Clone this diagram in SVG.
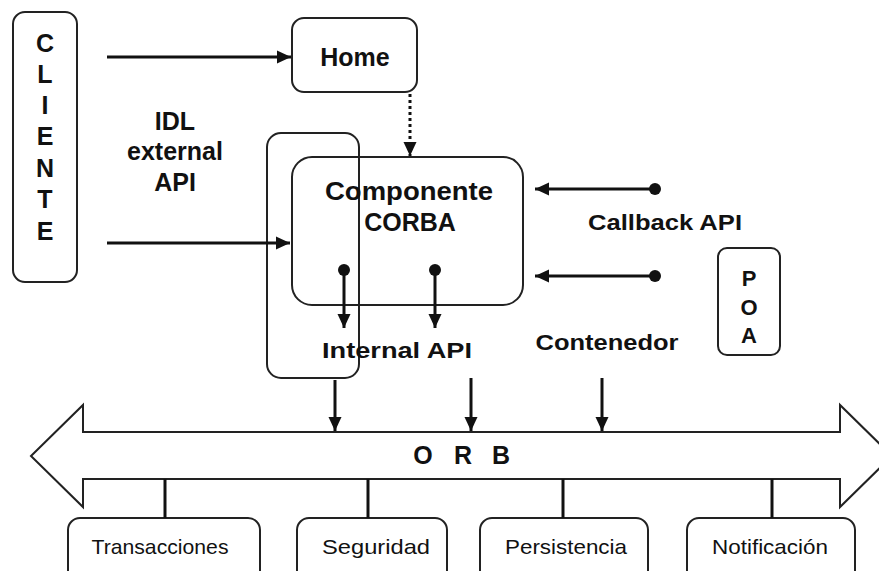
<svg xmlns="http://www.w3.org/2000/svg" width="879" height="571" viewBox="0 0 879 571">
  <defs>
    <marker id="head" markerUnits="userSpaceOnUse" markerWidth="15" markerHeight="15" refX="14" refY="7.5" orient="auto">
      <path d="M0,1 L14,7.5 L0,14 z" fill="#111"/>
    </marker>
    <marker id="dot" markerUnits="userSpaceOnUse" markerWidth="14" markerHeight="14" refX="7" refY="7" orient="auto">
      <circle cx="7" cy="7" r="6" fill="#111"/>
    </marker>
    <style>
      .box { fill: none; stroke: #222; stroke-width: 2; }
      .wire { fill: none; stroke: #111; stroke-width: 3; }
      .arrow { fill: none; stroke: #111; stroke-width: 3; marker-end: url(#head); }
      .api { fill: none; stroke: #111; stroke-width: 3; marker-start: url(#dot); marker-end: url(#head); }
      .dotted { fill: none; stroke: #111; stroke-width: 3; stroke-dasharray: 3 3; marker-end: url(#head); }
      .big { font-family: "Liberation Sans", Arial, sans-serif; font-weight: bold; font-size: 25px; fill: #111; text-anchor: middle; }
      .mid { font-family: "Liberation Sans", Arial, sans-serif; font-weight: bold; font-size: 22px; fill: #111; text-anchor: middle; }
      .svc { font-family: "Liberation Sans", Arial, sans-serif; font-size: 21px; fill: #111; text-anchor: middle; }
    </style>
  </defs>
  <rect width="879" height="571" fill="#fff"/>

  <!-- client column -->
  <g id="cliente">
    <rect class="box" x="13" y="12" width="64" height="270" rx="12"/>
    <text class="big" x="45" y="52">C</text>
    <text class="big" x="45" y="83">L</text>
    <text class="big" x="45" y="114">I</text>
    <text class="big" x="45" y="145">E</text>
    <text class="big" x="45" y="177">N</text>
    <text class="big" x="45" y="208">T</text>
    <text class="big" x="45" y="240">E</text>
  </g>

  <g id="idl-label">
    <text class="big" x="175" y="130">IDL</text>
    <text class="big" x="175" y="160">external</text>
    <text class="big" x="175" y="191">API</text>
  </g>

  <g id="home">
    <rect class="box" x="292" y="18" width="125" height="74" rx="12"/>
    <text class="big" x="355" y="66">Home</text>
  </g>

  <!-- external interface strip crossing the component -->
  <g id="facet">
    <rect class="box" x="267" y="133" width="92" height="245" rx="14"/>
  </g>

  <g id="componente">
    <rect class="box" x="292" y="157" width="231" height="148" rx="20"/>
    <text class="big" x="409" y="200" textLength="168" lengthAdjust="spacingAndGlyphs">Componente</text>
    <text class="big" x="410" y="231">CORBA</text>
  </g>

  <g id="poa">
    <rect class="box" x="718" y="248" width="62" height="107" rx="9"/>
    <text class="mid" x="749" y="286">P</text>
    <text class="mid" x="749" y="315">O</text>
    <text class="mid" x="749" y="343">A</text>
  </g>

  <g id="labels">
    <text class="mid" x="665" y="230" textLength="154" lengthAdjust="spacingAndGlyphs">Callback API</text>
    <text class="mid" x="397" y="358" textLength="150" lengthAdjust="spacingAndGlyphs">Internal API</text>
    <text class="mid" x="607" y="350" textLength="143" lengthAdjust="spacingAndGlyphs">Contenedor</text>
  </g>

  <g id="orb">
    <polygon class="box" points="31,456 83,405 83,432 840,432 840,405 892,456 840,507 840,479 83,479 83,507"/>
    <text class="big" y="464" font-size="26"><tspan x="423">O</tspan><tspan x="463">R</tspan><tspan x="501">B</tspan></text>
  </g>

  <g id="transacciones">
    <rect class="box" x="68" y="518" width="192" height="64" rx="12"/>
    <text class="svc" x="160" y="554" textLength="137" lengthAdjust="spacingAndGlyphs">Transacciones</text>
  </g>
  <g id="seguridad">
    <rect class="box" x="297" y="518" width="150" height="64" rx="12"/>
    <text class="svc" x="376" y="554" textLength="108" lengthAdjust="spacingAndGlyphs">Seguridad</text>
  </g>
  <g id="persistencia">
    <rect class="box" x="480" y="518" width="168" height="64" rx="12"/>
    <text class="svc" x="566" y="554" textLength="122" lengthAdjust="spacingAndGlyphs">Persistencia</text>
  </g>
  <g id="notificacion">
    <rect class="box" x="687" y="518" width="168" height="64" rx="12"/>
    <text class="svc" x="770" y="554" textLength="116" lengthAdjust="spacingAndGlyphs">Notificación</text>
  </g>

  <g id="connectors">
    <line class="arrow" x1="107" y1="57" x2="291" y2="57"/>
    <line class="arrow" x1="107" y1="243" x2="290" y2="243"/>
    <line class="dotted" x1="410" y1="94" x2="410" y2="156"/>
    <line class="api" x1="655" y1="189" x2="535" y2="189"/>
    <line class="api" x1="655" y1="276" x2="535" y2="276"/>
    <line class="api" x1="344" y1="270" x2="344" y2="328"/>
    <line class="api" x1="435" y1="270" x2="435" y2="328"/>
    <line class="arrow" x1="335" y1="380" x2="335" y2="431"/>
    <line class="arrow" x1="471" y1="378" x2="471" y2="431"/>
    <line class="arrow" x1="602" y1="378" x2="602" y2="431"/>
    <line class="wire" x1="165" y1="479" x2="165" y2="518"/>
    <line class="wire" x1="368" y1="479" x2="368" y2="518"/>
    <line class="wire" x1="563" y1="479" x2="563" y2="518"/>
    <line class="wire" x1="772" y1="479" x2="772" y2="518"/>
  </g>
</svg>
